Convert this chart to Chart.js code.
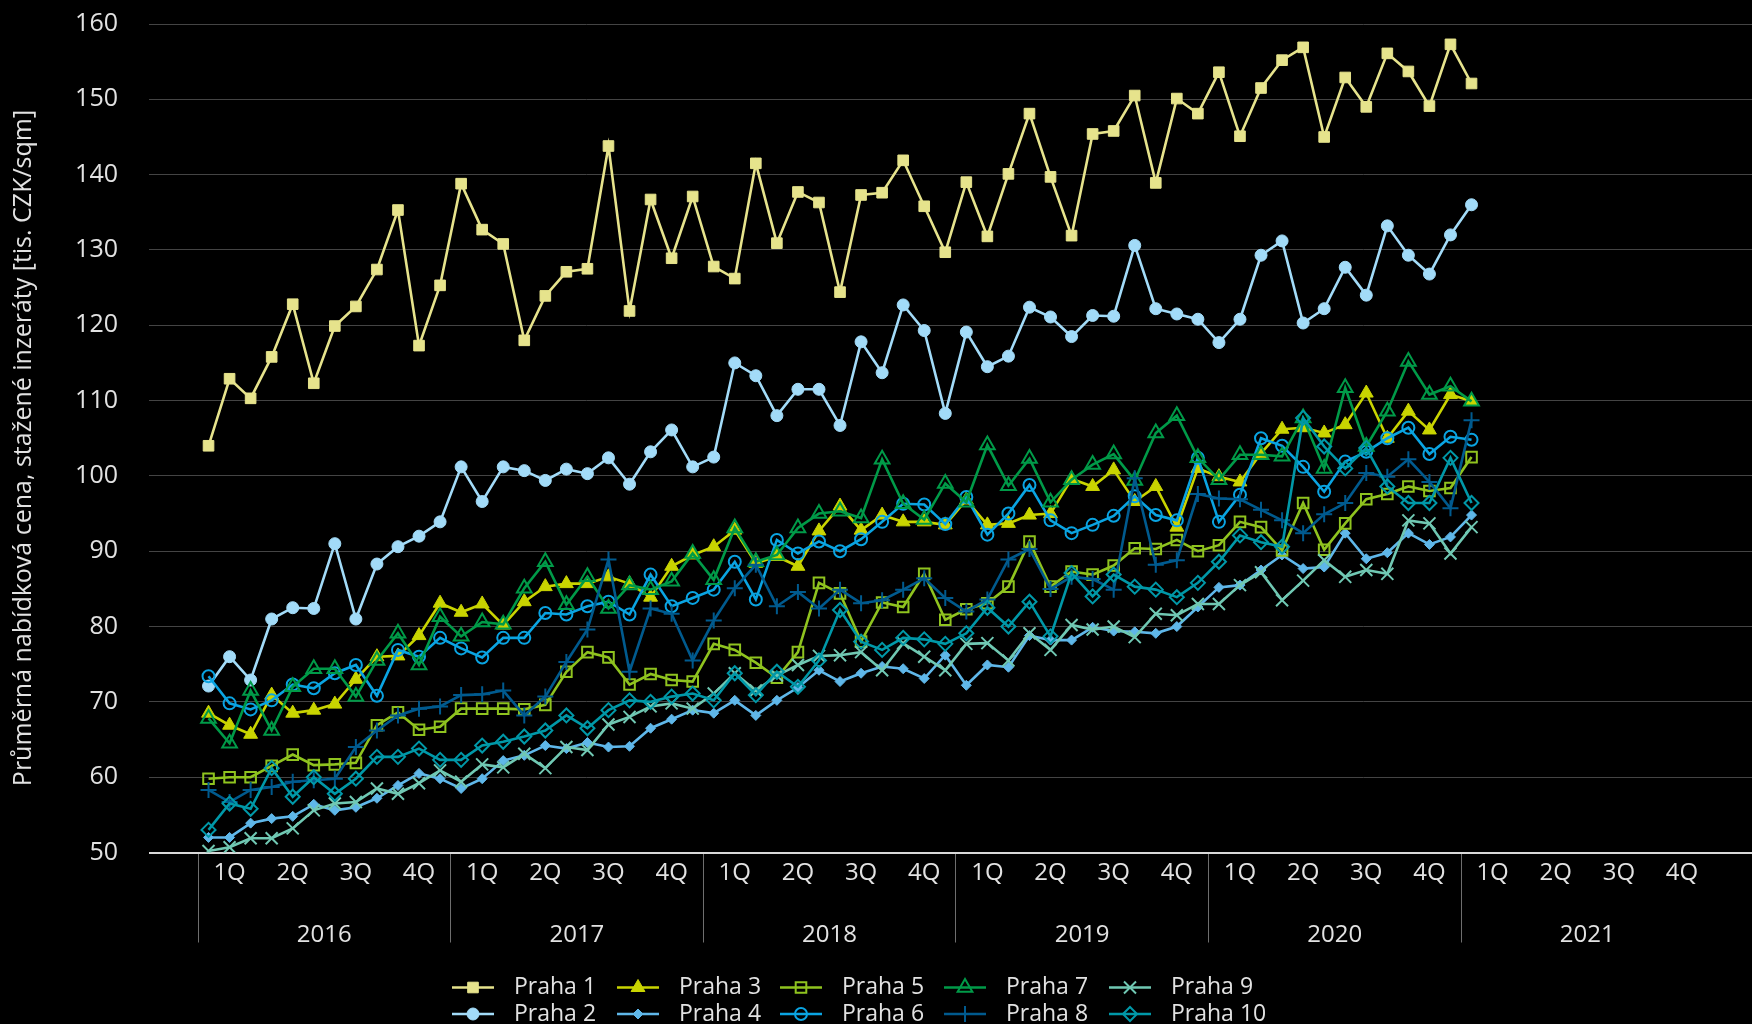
<!DOCTYPE html>
<html>
<head>
<meta charset="utf-8">
<script src="https://cdn.jsdelivr.net/npm/chart.js@4.4.1/dist/chart.umd.min.js"></script>
<style>
html,body{margin:0;padding:0;background:#000;overflow:hidden;}
#wrap{width:1752px;height:1024px;position:relative;}
</style>
</head>
<body>
<div id="wrap"><canvas id="c" width="1752" height="1024"></canvas></div>
<script>
// ---- categories / tick labels ----
const years = ['2016', '2017', '2018', '2019', '2020', '2021'];
const quarterLabels = ['1Q', '2Q', '3Q', '4Q'];
const months = [
  '01/2016','02/2016','03/2016','04/2016','05/2016','06/2016','07/2016','08/2016','09/2016','10/2016','11/2016','12/2016',
  '01/2017','02/2017','03/2017','04/2017','05/2017','06/2017','07/2017','08/2017','09/2017','10/2017','11/2017','12/2017',
  '01/2018','02/2018','03/2018','04/2018','05/2018','06/2018','07/2018','08/2018','09/2018','10/2018','11/2018','12/2018',
  '01/2019','02/2019','03/2019','04/2019','05/2019','06/2019','07/2019','08/2019','09/2019','10/2019','11/2019','12/2019',
  '01/2020','02/2020','03/2020','04/2020','05/2020','06/2020','07/2020','08/2020','09/2020','10/2020','11/2020','12/2020',
  '01/2021'
];
const yTitle = 'Průměrná nabídková cena, stažené inzeráty [tis. CZK/sqm]';

// ---- series values ----
const praha1 = [104.0,112.9,110.3,115.8,122.8,112.3,119.9,122.5,127.4,135.3,117.3,125.3,138.8,132.7,130.8,118.0,123.9,127.1,127.5,143.8,121.9,136.7,128.9,137.1,127.8,126.2,141.5,130.9,137.7,136.3,124.4,137.3,137.6,141.9,135.8,129.7,139.0,131.8,140.1,148.1,139.7,131.9,145.4,145.8,150.5,138.9,150.1,148.1,153.6,145.1,151.5,155.2,156.9,145.0,152.9,149.0,156.1,153.7,149.1,157.3,152.1];
const praha2 = [72.1,76.0,72.9,81.0,82.5,82.4,91.0,81.0,88.3,90.6,92.0,93.9,101.2,96.6,101.2,100.7,99.4,100.9,100.3,102.4,98.9,103.2,106.1,101.2,102.5,115.0,113.3,108.0,111.5,111.5,106.7,117.8,113.7,122.7,119.3,108.3,119.1,114.5,115.9,122.4,121.1,118.5,121.3,121.2,130.6,122.2,121.5,120.8,117.7,120.8,129.3,131.2,120.3,122.2,127.7,124.0,133.2,129.3,126.8,132.0,136.0];
const praha3 = [68.5,66.9,65.7,70.9,68.5,68.9,69.7,73.0,76.0,76.1,78.8,83.1,81.9,83.0,80.2,83.3,85.3,85.7,85.7,86.6,85.7,83.9,88.0,89.5,90.6,92.8,88.4,89.3,88.0,92.7,96.0,92.8,94.8,93.9,93.9,93.5,96.8,93.5,93.7,94.8,95.0,99.6,98.6,100.8,96.6,98.6,93.2,101.0,99.9,99.2,103.0,106.2,106.4,105.7,106.8,111.0,105.0,108.6,106.1,110.8,109.9];
const praha4 = [52.0,52.0,53.9,54.5,54.8,56.4,55.6,56.0,57.2,58.9,60.5,59.8,58.5,59.8,62.2,62.9,64.2,63.8,64.6,64.0,64.1,66.5,67.7,68.9,68.5,70.2,68.2,70.2,71.9,74.2,72.7,73.8,74.7,74.4,73.1,76.2,72.2,74.9,74.6,78.8,78.2,78.2,79.9,79.4,79.3,79.1,80.0,82.6,85.2,85.5,87.5,89.5,87.7,87.9,92.4,89.0,89.8,92.4,90.9,91.9,94.8];
const praha5 = [59.8,60.0,60.0,61.5,63.0,61.6,61.7,61.9,66.9,68.6,66.3,66.7,69.1,69.1,69.1,69.0,69.6,74.0,76.6,75.9,72.3,73.7,72.9,72.7,77.7,76.9,75.2,73.2,76.6,85.8,84.4,78.0,83.2,82.6,87.0,80.9,82.3,83.1,85.3,91.3,85.3,87.3,86.9,88.1,90.4,90.3,91.5,90.0,90.8,93.9,93.2,90.1,96.4,90.2,93.7,96.9,97.6,98.6,98.0,98.4,102.5];
const praha6 = [73.4,69.8,69.0,70.2,72.3,71.8,73.8,74.9,70.8,76.9,76.0,78.5,77.1,75.9,78.5,78.5,81.8,81.6,82.7,83.3,81.6,86.9,82.7,83.8,84.9,88.6,83.6,91.5,89.7,91.3,90.0,91.6,93.9,96.3,96.2,93.6,97.2,92.2,95.0,98.8,94.1,92.4,93.5,94.7,97.3,94.8,94.1,102.4,93.9,97.5,105.0,104.0,101.2,97.9,101.9,103.2,105.0,106.4,102.9,105.2,104.8];
const praha7 = [67.8,64.5,71.5,66.2,72.0,74.4,74.4,70.7,75.5,79.1,74.9,81.3,78.7,80.6,80.3,85.1,88.6,82.9,86.6,82.4,85.5,84.9,86.0,89.7,86.2,93.1,88.6,89.5,93.1,95.0,95.3,94.4,102.2,96.3,94.2,99.0,96.5,104.1,98.7,102.3,96.5,99.5,101.5,102.9,99.4,105.7,108.0,102.4,99.5,102.8,102.8,102.6,107.7,101.0,111.7,103.9,108.6,115.2,110.8,111.9,109.9];
const praha8 = [58.3,56.7,58.3,58.7,59.4,59.6,59.8,64.0,66.2,68.2,69.1,69.4,70.9,71.0,71.5,68.2,70.7,75.3,79.6,88.9,74.0,82.4,81.7,75.5,80.8,85.1,88.2,82.7,84.6,82.4,84.9,83.1,83.5,84.9,86.4,83.8,82.0,83.6,88.9,90.3,85.0,86.6,86.3,84.9,99.7,88.2,88.8,97.6,97.0,96.9,95.5,94.1,92.4,94.9,96.4,100.4,99.9,102.2,99.2,95.7,107.4];
const praha9 = [50.2,50.7,51.9,51.9,53.2,55.6,56.5,56.7,58.5,57.8,59.2,60.9,59.4,61.7,61.3,63.1,61.2,64.0,63.6,67.0,68.0,69.4,69.8,69.1,71.1,73.8,71.5,73.5,74.9,76.1,76.2,76.6,74.2,77.8,76.0,74.2,77.7,77.8,75.5,79.1,76.9,80.2,79.6,80.0,78.6,81.7,81.5,83.0,83.0,85.5,87.2,83.5,86.1,88.8,86.6,87.5,87.0,94.1,93.7,89.7,93.2];
const praha10 = [53.0,56.5,55.8,61.2,57.4,60.0,57.8,59.8,62.7,62.7,63.8,62.3,62.3,64.2,64.7,65.4,66.2,68.2,66.5,68.9,70.2,70.0,70.7,71.1,70.2,73.8,70.9,74.0,72.0,75.5,82.2,78.0,76.9,78.5,78.3,77.7,79.1,82.5,80.0,83.3,78.7,87.1,84.0,86.9,85.3,84.9,83.9,85.8,88.6,92.1,91.2,90.6,107.7,103.9,101.0,103.7,98.6,96.4,96.4,102.4,96.4];

const seriesNames = ['Praha 1','Praha 2','Praha 3','Praha 4','Praha 5','Praha 6','Praha 7','Praha 8','Praha 9','Praha 10'];
const seriesValues = [praha1, praha2, praha3, praha4, praha5, praha6, praha7, praha8, praha9, praha10];

// ---- styles ----
const styles = [
  {color:'#e6e38c', style:'rect',     r:7.5, fill:true,  bw:1},
  {color:'#a2dbf8', style:'circle',   r:6,   fill:true,  bw:1},
  {color:'#c9d400', style:'triangle', r:8,   fill:true,  bw:1},
  {color:'#5fb7e9', style:'rectRot',  r:5,   fill:true,  bw:1},
  {color:'#8fc31f', style:'rect',     r:7.5, fill:false, bw:2},
  {color:'#0aa4e2', style:'circle',   r:6,   fill:false, bw:2},
  {color:'#009a48', style:'triangle', r:8.5, fill:false, bw:2},
  {color:'#005a8e', style:'cross',    r:8,   fill:false, bw:2},
  {color:'#70c8b3', style:'crossRot', r:8.5, fill:false, bw:2},
  {color:'#0098a8', style:'rectRot',  r:7,   fill:false, bw:2}
];

// month label -> position in the middle of that month on a linear month axis
function monthPos(label) {
  const [mm, yy] = label.split('/');
  return (parseInt(yy, 10) - parseInt(years[0], 10)) * 12 + (parseInt(mm, 10) - 1) + 0.5;
}

const datasets = seriesNames.map((name, i) => {
  const s = styles[i];
  return {
    label: name,
    data: seriesValues[i].map((v, k) => ({x: monthPos(months[k]), y: v})),
    borderColor: s.color,
    backgroundColor: s.color,
    borderWidth: 2.6,
    pointStyle: s.style,
    pointRadius: s.r,
    pointHoverRadius: s.r,
    pointBorderWidth: s.bw,
    pointBorderColor: s.color,
    pointBackgroundColor: s.fill ? s.color : 'rgba(0,0,0,0)',
    tension: 0,
    order: 10 - i
  };
});

// x tick positions: year boundaries, quarter centres, year centres
const xTickValues = [];
years.forEach((y, yi) => {
  const b = yi * 12;
  xTickValues.push(b, b + 1.5, b + 4.5, b + 6, b + 7.5, b + 10.5);
});
const X_MAX = (1752 - 198) / 21.05;
const TXT = '#e2e2e2';

function drawMarker(ctx, style, x, y, r) {
  ctx.beginPath();
  switch (style) {
    case 'circle': ctx.arc(x, y, r, 0, Math.PI * 2); ctx.closePath(); break;
    case 'rect': { const s = Math.SQRT1_2 * r; ctx.rect(x - s, y - s, 2 * s, 2 * s); break; }
    case 'triangle': {
      let a = 0;
      ctx.moveTo(x + Math.sin(a) * r, y - Math.cos(a) * r); a += Math.PI * 2 / 3;
      ctx.lineTo(x + Math.sin(a) * r, y - Math.cos(a) * r); a += Math.PI * 2 / 3;
      ctx.lineTo(x + Math.sin(a) * r, y - Math.cos(a) * r); ctx.closePath(); break;
    }
    case 'rectRot': ctx.moveTo(x - r, y); ctx.lineTo(x, y - r); ctx.lineTo(x + r, y); ctx.lineTo(x, y + r); ctx.closePath(); break;
    case 'cross': ctx.moveTo(x, y - r); ctx.lineTo(x, y + r); ctx.moveTo(x - r, y); ctx.lineTo(x + r, y); break;
    case 'crossRot': { const d = Math.SQRT1_2 * r; ctx.moveTo(x - d, y - d); ctx.lineTo(x + d, y + d); ctx.moveTo(x + d, y - d); ctx.lineTo(x - d, y + d); break; }
  }
}

const legendPlugin = {
  id: 'gridLegend',
  afterDraw(chart) {
    const ctx = chart.ctx;
    const cols = [452, 617, 780, 944, 1109];
    const rows = [987.5, 1014];
    chart.data.datasets.forEach((ds, i) => {
      const s = styles[i];
      const x = cols[Math.floor(i / 2)], y = rows[i % 2];
      ctx.save();
      ctx.strokeStyle = s.color; ctx.lineWidth = 2.6;
      ctx.beginPath(); ctx.moveTo(x, y); ctx.lineTo(x + 42, y); ctx.stroke();
      ctx.lineWidth = s.bw;
      drawMarker(ctx, s.style, x + 21, y, s.r);
      if (s.fill && s.style !== 'cross' && s.style !== 'crossRot') { ctx.fillStyle = s.color; ctx.fill(); }
      ctx.stroke();
      ctx.fillStyle = TXT;
      ctx.font = '23px "Open Sans"';
      ctx.textAlign = 'left'; ctx.textBaseline = 'middle';
      ctx.fillText(ds.label, x + 62, y);
      ctx.restore();
    });
  }
};

new Chart(document.getElementById('c'), {
  type: 'line',
  data: {datasets},
  plugins: [legendPlugin],
  options: {
    responsive: false,
    animation: false,
    devicePixelRatio: 1,
    layout: {autoPadding: false, padding: {left: 0, right: 0, top: 24, bottom: 0}},
    plugins: {legend: {display: false}, tooltip: {enabled: false}},
    elements: {line: {tension: 0}},
    scales: {
      x: {
        type: 'linear', position: 'bottom', min: 0, max: X_MAX,
        afterBuildTicks: s => { s.ticks = xTickValues.map(v => ({value: v})); },
        afterFit: s => { s.height = 1024 - 852.5; s.paddingLeft = 0; s.paddingRight = 0; },
        ticks: {
          autoSkip: false, maxRotation: 0, minRotation: 0, padding: -101,
          color: TXT,
          font: {family: 'Open Sans', size: 24, lineHeight: 2.6},
          callback: v => {
            const m = v % 12, y = Math.floor(v / 12);
            if (m === 0) return '';
            if (m === 6) return ['', years[y]];
            return quarterLabels[(m - 1.5) / 3];
          }
        },
        grid: {
          drawOnChartArea: false, drawTicks: true, tickLength: 90,
          color: c => (c.tick && c.tick.value % 12 === 0) ? '#6e6e6e' : 'rgba(0,0,0,0)',
          lineWidth: 1
        },
        border: {display: true, color: '#d9d9d9', width: 2}
      },
      y: {
        min: 50, max: 160,
        afterFit: s => { s.width = 198; s.paddingTop = 0; s.paddingBottom = 0; },
        ticks: {stepSize: 10, padding: 31, color: TXT, font: {family: 'Open Sans', size: 25}},
        grid: {
          drawTicks: true, tickLength: 49,
          color: c => (c.tick && c.tick.value === 50) ? '#d9d9d9' : '#444444',
          lineWidth: c => (c.tick && c.tick.value === 50) ? 2 : 1
        },
        border: {display: false},
        title: {display: true, text: yTitle + '\u00A0\u00A0\u00A0', color: TXT, font: {family: 'Open Sans', size: 25}, padding: {top: 9, bottom: 0}}
      }
    }
  }
});
</script>
</body>
</html>
